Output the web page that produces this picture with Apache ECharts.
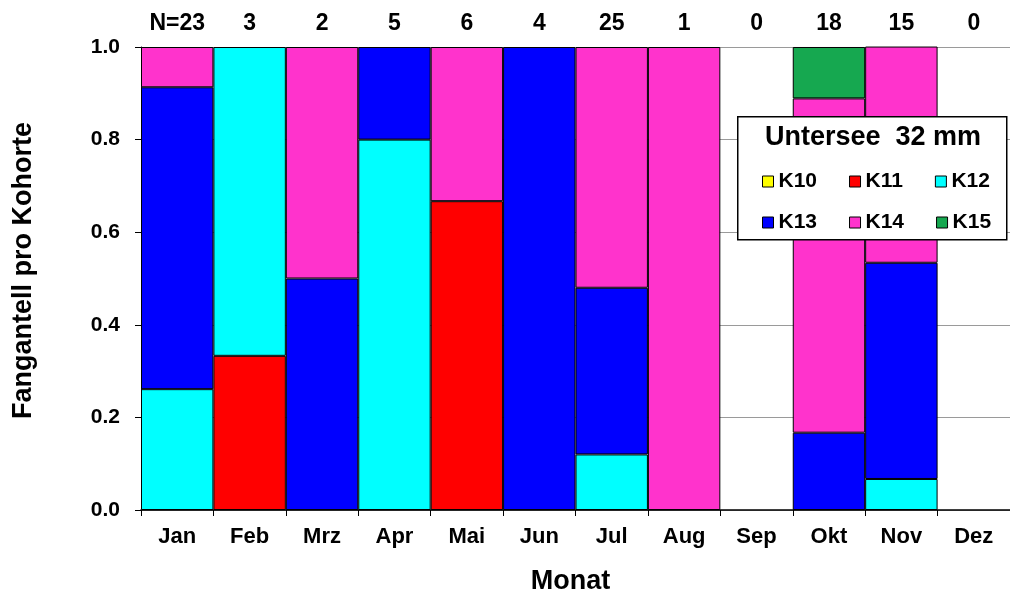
<!DOCTYPE html>
<html>
<head>
<meta charset="utf-8">
<script src="https://cdn.jsdelivr.net/npm/echarts@6/dist/echarts.min.js"></script>
<style>html,body{margin:0;padding:0;background:#fff}#c{width:1010px;height:600px}</style>
</head>
<body>
<div id="c"></div>
<script>
var months = ['Jan','Feb','Mrz','Apr','Mai','Jun','Jul','Aug','Sep','Okt','Nov','Dez'];
var nLabels = ['N=23','3','2','5','6','4','25','1','0','18','15','0'];
var yTicks = ['0.0','0.2','0.4','0.6','0.8','1.0'];
var seriesNames = ['K10','K11','K12','K13','K14','K15'];
var K10 = [0,0,0,0,0,0,0,0,0,0,0,0];
var K11 = [0,0.333,0,0,0.667,0,0,0,0,0,0,0];
var K12 = [0.261,0.667,0,0.8,0,0,0.12,0,0,0,0.067,0];
var K13 = [0.652,0,0.5,0.2,0,1.0,0.36,0,0,0.167,0.467,0];
var K14 = [0.087,0,0.5,0,0.333,0,0.52,1.0,0,0.722,0.467,0];
var K15 = [0,0,0,0,0,0,0,0,0,0.111,0,0];
var legendTitle = 'Untersee  32 mm';

var colors = {K10:'#FFFF00',K11:'#FF0000',K12:'#00FFFF',K13:'#0000FF',K14:'#FF33CC',K15:'#16A850'};
var dataMap = {K10:K10,K11:K11,K12:K12,K13:K13,K14:K14,K15:K15};
var F = '"Liberation Sans", Arial, sans-serif';

var series = seriesNames.map(function(n){
  return {
    name:n, type:'bar', stack:'all', xAxisIndex:0,
    barWidth:'100%', barCategoryGap:'0%',
    itemStyle:{color:colors[n], borderColor:'#000', borderWidth:1},
    emphasis:{disabled:true},
    data: dataMap[n].map(function(v){return v===0?null:v;})
  };
});

var legendCommon = {
  z:20, itemWidth:11, itemHeight:11, itemGap:32, icon:'rect',
  itemStyle:{borderColor:'#000', borderWidth:1},
  textStyle:{fontFamily:F, fontWeight:'bold', fontSize:21, color:'#000'},
  selectedMode:false
};

var chart = echarts.init(document.getElementById('c'), null, {renderer:'canvas'});
chart.setOption({
  animation:false,
  backgroundColor:'#fff',
  grid:{left:141, top:47, width:880, height:463, containLabel:false},
  xAxis:[{
    type:'category', data:months, position:'bottom',
    axisLine:{show:true, lineStyle:{color:'#000', width:1.5}},
    axisTick:{show:true, length:6, lineStyle:{color:'#000'}},
    axisLabel:{fontFamily:F, fontWeight:'bold', fontSize:22, color:'#000', margin:16},
    name:'Monat', nameLocation:'middle', nameGap:58,
    nameTextStyle:{fontFamily:F, fontWeight:'bold', fontSize:27, color:'#000', padding:[0,10,0,0]}
  },{
    type:'category', data:nLabels, position:'top',
    axisLine:{show:false}, axisTick:{show:false},
    axisLabel:{fontFamily:F, fontWeight:'bold', fontSize:23, color:'#000', margin:12}
  }],
  yAxis:{
    type:'value', min:0, max:1, interval:0.2,
    axisLine:{show:true, lineStyle:{color:'#000', width:1}},
    axisTick:{show:true, length:6, lineStyle:{color:'#000'}},
    splitLine:{show:true, lineStyle:{color:'#9a9a9a', width:1}},
    axisLabel:{fontFamily:F, fontWeight:'bold', fontSize:21, color:'#000', margin:21,
      formatter:function(v){return yTicks[Math.round(v*5)];}},
    name:'Fangantell pro Kohorte', nameLocation:'middle', nameGap:104,
    nameTextStyle:{fontFamily:F, fontWeight:'bold', fontSize:27, color:'#000', padding:[0,0,0,16]}
  },
  legend:[
    Object.assign({data:seriesNames.slice(0,3), left:757, top:166}, legendCommon),
    Object.assign({data:seriesNames.slice(3,6), left:757, top:207}, legendCommon)
  ],
  graphic:[
    {type:'rect', z:10, left:737, top:116, shape:{width:269, height:123},
      style:{fill:'#fff', stroke:'#000', lineWidth:1.5}},
    {type:'text', z:30, left:765, top:124,
      style:{text:legendTitle, font:'bold 27px "Liberation Sans", Arial, sans-serif', fill:'#000'}}
  ],
  series:series
});
</script>
</body>
</html>
